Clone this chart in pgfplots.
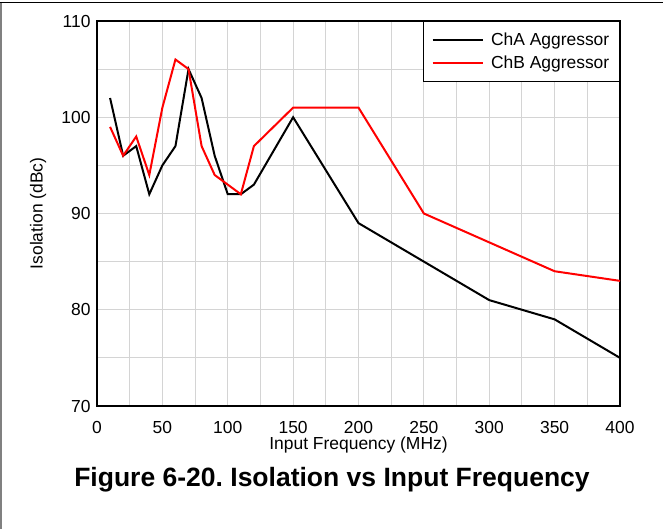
\documentclass[border=0pt]{standalone}
\usepackage{pgfplots}
\pgfplotsset{compat=1.18}
\usepackage{fontspec}
\setmainfont{Liberation Sans}
\definecolor{gridgray}{HTML}{D4D4D4}
\definecolor{chbred}{HTML}{FF0000}

\begin{document}
\begin{tikzpicture}
\useasboundingbox (0,0) rectangle (663bp,529bp);
% page frame lines
\draw[black, line width=1bp] (0,526bp) -- (663bp,526bp);
\draw[gray, line width=1.5bp] (1bp,0) -- (1bp,526bp);

\begin{axis}[
  at={(97bp,123bp)}, anchor=south west,
  width=523bp, height=385bp, scale only axis,
  xmin=0, xmax=400, ymin=70, ymax=110,
  xtick={0,50,...,400}, minor xtick={25,75,...,375},
  ytick={70,80,...,110}, minor ytick={75,85,...,105},
  grid=both,
  major grid style={gridgray, line width=1bp},
  minor grid style={gridgray, line width=1bp},
  axis line style={black, line width=2.5bp},
  major tick length=0pt, minor tick length=0pt,
  /pgf/number format/assume math mode=true,
  ticklabel style={font=\fontsize{17.5}{21}\selectfont},
  xticklabel style={yshift=-11.5bp},
  yticklabel style={xshift=-3bp},
  xlabel={Input Frequency (MHz)},
  ylabel={Isolation (dBc)},
  label style={font=\fontsize{17.5}{21}\selectfont},
  xlabel style={at={(axis description cs:0.5,0)}, anchor=base, yshift=-44bp},
  ylabel style={at={(axis description cs:-0.1042,0.5)}, anchor=base, rotate=0},
  legend style={at={(1,1)}, anchor=north east, draw=black, line width=1.5bp,
    font=\fontsize{17.5}{21}\selectfont, inner xsep=8bp, inner ysep=9.5bp,
    row sep=4.7bp, column sep=5.4bp, fill=white},
  legend cell align=left,
  legend image code/.code={\draw[#1] (0bp,0bp) -- (50bp,0bp);},
]
\addplot[black, line width=2bp] coordinates {
  (10,102) (20,96) (30,97) (40,92) (50,95) (60,97) (70,105) (80,102)
  (90,96) (100,92) (110,92) (120,93) (150,100) (200,89) (250,85)
  (300,81) (350,79) (400,75)
};
\addlegendentry{ChA Aggressor}
\addplot[chbred, line width=2bp] coordinates {
  (10,99) (20,96) (30,98) (40,94) (50,101) (60,106) (70,105) (80,97)
  (90,94) (100,93) (110,92) (120,97) (150,101) (200,101) (250,90)
  (300,87) (350,84) (400,83)
};
\addlegendentry{ChB Aggressor}
\end{axis}

\node[anchor=base, font=\bfseries\fontsize{26.6}{31}\selectfont]
  at (332bp,42.5bp) {Figure 6-20.\ Isolation vs Input Frequency};
\end{tikzpicture}
\end{document}
